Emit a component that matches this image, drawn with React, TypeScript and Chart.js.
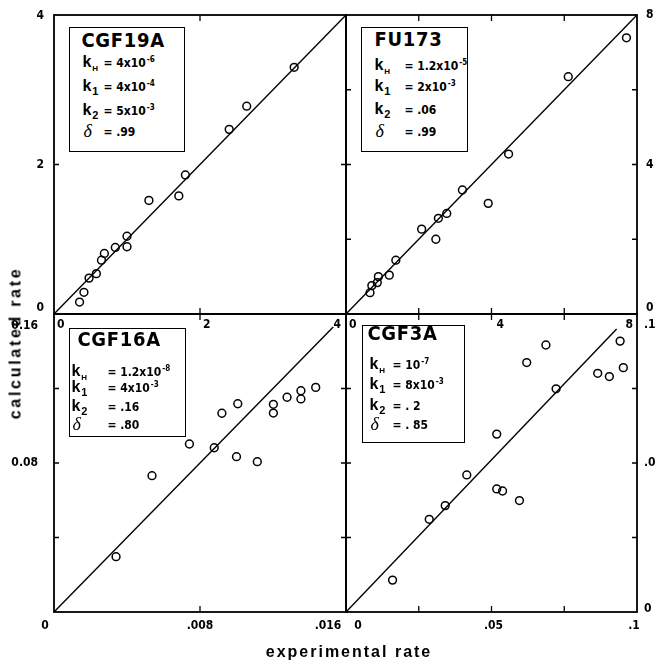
import React, { useEffect, useRef } from 'react';
import { Chart, registerables } from 'chart.js';

Chart.register(...registerables);

// ---------- CGF19A (upper left) ----------
const cgf19aExperimental = [0.35, 0.41, 0.48, 0.58, 0.65, 0.69, 0.84, 1.0, 1.0, 1.3, 1.71, 1.8, 2.4, 2.64, 3.29];
const cgf19aCalculated = [0.16, 0.29, 0.48, 0.54, 0.72, 0.81, 0.89, 0.9, 1.04, 1.52, 1.58, 1.86, 2.47, 2.78, 3.3];
const cgf19aFitX = [0, 4];
const cgf19aFitY = [0, 4];
const cgf19aRange = [0, 4];
const cgf19aXMarks = [2];
const cgf19aYMarks = [2];
const cgf19aXLabelValues = [0, 2, 4];
const cgf19aXLabels = ['0', '2', '4'];
const cgf19aYLabelValues = [0, 2, 4];
const cgf19aYLabels = ['0', '2', '4'];

// ---------- FU173 (upper right) ----------
const fu173Experimental = [0.66, 0.71, 0.86, 0.89, 1.19, 1.37, 2.08, 2.47, 2.54, 2.77, 3.2, 3.91, 4.47, 6.11, 7.71];
const fu173Calculated = [0.57, 0.76, 0.84, 1.0, 1.04, 1.44, 2.27, 2.0, 2.56, 2.69, 3.32, 2.96, 4.28, 6.35, 7.39];
const fu173FitX = [0, 8];
const fu173FitY = [0, 8];
const fu173Range = [0, 8];
const fu173XMarks = [2, 4, 6];
const fu173YMarks = [2, 4, 6];
const fu173XLabelValues = [0, 4, 8];
const fu173XLabels = ['0', '4', '8'];
const fu173YLabelValues = [0, 4, 8];
const fu173YLabels = ['0', '4', '8'];

// ---------- CGF16A (lower left) ----------
const cgf16aExperimental = [0.0034, 0.00537, 0.00742, 0.00878, 0.0092, 0.01, 0.01007, 0.01114, 0.01202, 0.01202, 0.01277, 0.01353, 0.01353, 0.01434];
const cgf16aCalculated = [0.0297, 0.0732, 0.0902, 0.0882, 0.1067, 0.0834, 0.1118, 0.0807, 0.1115, 0.1068, 0.1153, 0.1188, 0.1144, 0.1206];
const cgf16aFitX = [0, 0.0153];
const cgf16aFitY = [0, 0.153];
const cgf16aXRange = [0, 0.016];
const cgf16aYRange = [0, 0.16];
const cgf16aXMarks = [0.008];
const cgf16aYMarks = [0.04, 0.08, 0.12];
const cgf16aXLabelValues = [0, 0.008, 0.016];
const cgf16aXLabels = ['0', '.008', '.016'];
const cgf16aYLabelValues = [0.08, 0.16];
const cgf16aYLabels = ['0.08', '0.16'];

// ---------- CGF3A (lower right) ----------
const cgf3aExperimental = [0.016, 0.0286, 0.0341, 0.0415, 0.0518, 0.0518, 0.0538, 0.0596, 0.0621, 0.0687, 0.0722, 0.0865, 0.0905, 0.0942, 0.0953];
const cgf3aCalculated = [0.0107, 0.0311, 0.0357, 0.046, 0.0597, 0.0413, 0.0406, 0.0374, 0.0837, 0.0896, 0.0749, 0.0801, 0.079, 0.0909, 0.082];
const cgf3aFitX = [0, 0.093];
const cgf3aFitY = [0, 0.095];
const cgf3aRange = [0, 0.1];
const cgf3aXMarks = [0.025, 0.05, 0.075];
const cgf3aYMarks = [0.025, 0.05, 0.075];
const cgf3aXLabelValues = [0, 0.05, 0.1];
const cgf3aXLabels = ['0', '.05', '.1'];
const cgf3aYLabelValues = [0, 0.05, 0.1];
const cgf3aYLabels = ['0', '.05', '.1'];

// ---------- fitted parameters shown in each panel ----------
const sampleNames = ['CGF19A', 'FU173', 'CGF16A', 'CGF3A'];
const kHValues = ['4x10', '1.2x10', '1.2x10', '10'];
const kHExponents = ['-6', '-5', '-8', '-7'];
const k1Values = ['4x10', '2x10', '4x10', '8x10'];
const k1Exponents = ['-4', '-3', '-3', '-3'];
const k2Values = ['5x10', '.06', '.16', '. 2'];
const k2Exponents = ['-3', '', '', ''];
const deltaValues = ['.99', '.99', '.80', '. 85'];

const W = 656;
const H = 660;
const TICK_FONT = "bold 12px 'Liberation Sans Narrow', 'DejaVu Sans Condensed', 'Liberation Sans', sans-serif";
const NARROW = "'Liberation Sans Narrow', 'DejaVu Sans Condensed', 'Liberation Sans', sans-serif";

type Place = {
  area: { left: number; top: number; right: number; bottom: number };
  ySide: 'left' | 'right';
  yGap: number;
  yDy: number[];
  xGap: number;
  xAlign: CanvasTextAlign[];
  xDx: number[];
};

type PanelSpec = {
  exp: number[];
  calc: number[];
  fitX: number[];
  fitY: number[];
  xRange: number[];
  yRange: number[];
  xMarks: number[];
  yMarks: number[];
  xLabelValues: number[];
  xLabels: string[];
  yLabelValues: number[];
  yLabels: string[];
  place: Place;
};

const panels: PanelSpec[] = [
  {
    exp: cgf19aExperimental, calc: cgf19aCalculated, fitX: cgf19aFitX, fitY: cgf19aFitY,
    xRange: cgf19aRange, yRange: cgf19aRange, xMarks: cgf19aXMarks, yMarks: cgf19aYMarks,
    xLabelValues: cgf19aXLabelValues, xLabels: cgf19aXLabels, yLabelValues: cgf19aYLabelValues, yLabels: cgf19aYLabels,
    place: {
      area: { left: 54, top: 15, right: 346, bottom: 314 },
      ySide: 'left', yGap: 10, yDy: [-6, 0, 1],
      xGap: 11, xAlign: ['left', 'left', 'right'], xDx: [3, 3, -5],
    },
  },
  {
    exp: fu173Experimental, calc: fu173Calculated, fitX: fu173FitX, fitY: fu173FitY,
    xRange: fu173Range, yRange: fu173Range, xMarks: fu173XMarks, yMarks: fu173YMarks,
    xLabelValues: fu173XLabelValues, xLabels: fu173XLabels, yLabelValues: fu173YLabelValues, yLabels: fu173YLabels,
    place: {
      area: { left: 346, top: 15, right: 637, bottom: 314 },
      ySide: 'right', yGap: 9, yDy: [-6, 0, 0],
      xGap: 11, xAlign: ['left', 'left', 'right'], xDx: [3, 5, -4],
    },
  },
  {
    exp: cgf16aExperimental, calc: cgf16aCalculated, fitX: cgf16aFitX, fitY: cgf16aFitY,
    xRange: cgf16aXRange, yRange: cgf16aYRange, xMarks: cgf16aXMarks, yMarks: cgf16aYMarks,
    xLabelValues: cgf16aXLabelValues, xLabels: cgf16aXLabels, yLabelValues: cgf16aYLabelValues, yLabels: cgf16aYLabels,
    place: {
      area: { left: 54, top: 314, right: 346, bottom: 612 },
      ySide: 'left', yGap: 16, yDy: [0, 12],
      xGap: 14, xAlign: ['center', 'center', 'center'], xDx: [-9, 0, -18],
    },
  },
  {
    exp: cgf3aExperimental, calc: cgf3aCalculated, fitX: cgf3aFitX, fitY: cgf3aFitY,
    xRange: cgf3aRange, yRange: cgf3aRange, xMarks: cgf3aXMarks, yMarks: cgf3aYMarks,
    xLabelValues: cgf3aXLabelValues, xLabels: cgf3aXLabels, yLabelValues: cgf3aYLabelValues, yLabels: cgf3aYLabels,
    place: {
      area: { left: 346, top: 314, right: 637, bottom: 612 },
      ySide: 'right', yGap: 7, yDy: [-3, 0, 11],
      xGap: 14, xAlign: ['center', 'center', 'center'], xDx: [12, 2, -3],
    },
  },
];

// Frame, inward tick marks and tick labels, all positioned through the chart's scales.
function paperAxes(spec: PanelSpec) {
  return {
    id: 'paperAxes',
    afterDraw(chart: any) {
      const { ctx, chartArea: a, scales } = chart;
      const xs = scales.x;
      const ys = scales.y;
      const p = spec.place;
      ctx.save();
      ctx.strokeStyle = '#000';
      ctx.lineWidth = 1.8;
      ctx.strokeRect(a.left, a.top, a.right - a.left, a.bottom - a.top);

      ctx.lineWidth = 1.3;
      ctx.beginPath();
      spec.xMarks.forEach((v) => {
        const px = xs.getPixelForValue(v);
        ctx.moveTo(px, a.top);
        ctx.lineTo(px, a.top + 6);
        ctx.moveTo(px, a.bottom);
        ctx.lineTo(px, a.bottom - 6);
      });
      spec.yMarks.forEach((v) => {
        const py = ys.getPixelForValue(v);
        ctx.moveTo(a.left, py);
        ctx.lineTo(a.left + 5, py);
        ctx.moveTo(a.right, py);
        ctx.lineTo(a.right - 5, py);
      });
      ctx.stroke();

      ctx.fillStyle = '#000';
      ctx.font = TICK_FONT;
      ctx.textBaseline = 'middle';
      spec.xLabelValues.forEach((v, i) => {
        ctx.textAlign = p.xAlign[i];
        ctx.fillText(spec.xLabels[i], xs.getPixelForValue(v) + p.xDx[i], a.bottom + p.xGap);
      });
      const onLeft = p.ySide === 'left';
      ctx.textAlign = onLeft ? 'right' : 'left';
      spec.yLabelValues.forEach((v, i) => {
        const x = onLeft ? a.left - p.yGap : a.right + p.yGap;
        ctx.fillText(spec.yLabels[i], x, ys.getPixelForValue(v) + p.yDy[i]);
      });
      ctx.restore();
    },
  };
}

function buildConfig(spec: PanelSpec): any {
  const a = spec.place.area;
  const points = spec.exp.map((x, i) => ({ x, y: spec.calc[i] }));
  const fit = spec.fitX.map((x, i) => ({ x, y: spec.fitY[i] }));
  return {
    type: 'scatter',
    data: {
      datasets: [
        {
          data: fit,
          showLine: true,
          borderColor: '#000',
          borderWidth: 1.4,
          pointRadius: 0,
          fill: false,
        },
        {
          data: points,
          pointStyle: 'circle',
          pointRadius: 3.9,
          pointBorderWidth: 1.5,
          borderColor: '#000',
          backgroundColor: 'rgba(0,0,0,0)',
        },
      ],
    },
    options: {
      animation: false,
      responsive: false,
      events: [],
      layout: { padding: { left: a.left, top: a.top, right: W - a.right, bottom: H - a.bottom } },
      plugins: { legend: { display: false }, tooltip: { enabled: false } },
      scales: {
        x: { type: 'linear', min: spec.xRange[0], max: spec.xRange[1], display: false },
        y: { type: 'linear', min: spec.yRange[0], max: spec.yRange[1], display: false },
      },
    },
    plugins: [paperAxes(spec)],
  };
}

function PanelChart({ spec }: { spec: PanelSpec }) {
  const ref = useRef<HTMLCanvasElement>(null);
  useEffect(() => {
    if (!ref.current) return;
    const chart = new Chart(ref.current, buildConfig(spec));
    return () => chart.destroy();
  }, [spec]);
  return (
    <canvas
      ref={ref}
      width={W}
      height={H}
      style={{ position: 'absolute', left: 0, top: 0, width: W, height: H }}
    />
  );
}

// Layout of the parameter boxes (page coordinates of the box, offsets inside it).
const boxLayout = [
  { left: 69, top: 27, width: 116, height: 125, titleX: 13, titleY: 14, kX: 14, eqX: 35, rows: [36, 60, 84, 105] },
  { left: 361, top: 27, width: 107, height: 125, titleX: 14, titleY: 13, kX: 14, eqX: 44, rows: [39, 60, 83, 105] },
  { left: 69, top: 328, width: 117, height: 109, titleX: 9, titleY: 12, kX: 3, eqX: 39, rows: [44, 60, 79, 97] },
  { left: 362, top: 325, width: 103, height: 118, titleX: 6, titleY: 9, kX: 8, eqX: 31, rows: [40, 60, 81, 100] },
];

const BORDER = 1.6;

// top offset for a line box so that its baseline lands on `baseline`
const topFor = (baseline: number, size: number) => baseline - 0.85 * size;

function ParamRow({ y, kX, eqX, sub, value, exp, delta }: any) {
  const base = y + 5;
  return (
    <>
      <div
        style={{
          position: 'absolute', left: kX, top: topFor(base, 16), lineHeight: '16px', fontSize: 16,
          fontWeight: 'bold', fontFamily: delta ? "'Liberation Serif', 'DejaVu Serif', serif" : "'Liberation Sans', sans-serif",
          fontStyle: delta ? 'italic' : 'normal', whiteSpace: 'nowrap',
        }}
      >
        {delta ? <span style={{ fontSize: 18, fontWeight: 'normal', marginLeft: 1 }}>δ</span> : 'k'}
        {sub ? (
          <span style={{ fontSize: sub === 'H' ? 8 : 11, position: 'relative', top: 4, marginLeft: 1 }}>{sub}</span>
        ) : null}
      </div>
      <div
        style={{
          position: 'absolute', left: eqX, top: topFor(base, 12), lineHeight: '12px', fontSize: 12,
          fontWeight: 'bold', fontFamily: NARROW, whiteSpace: 'nowrap',
        }}
      >
        {'= ' + value}
        {exp ? <span style={{ fontSize: 8, position: 'relative', top: -5, marginLeft: 1 }}>{exp}</span> : null}
      </div>
    </>
  );
}

function ParamBox({ i }: { i: number }) {
  const b = boxLayout[i];
  return (
    <div
      style={{
        position: 'absolute', left: b.left, top: b.top, width: b.width, height: b.height,
        border: BORDER + 'px solid #000', boxSizing: 'border-box', background: '#fff', color: '#000',
      }}
    >
      <div
        style={{
          position: 'absolute', left: b.titleX - BORDER, top: topFor(b.titleY + 7, 20) - BORDER, fontSize: 20, lineHeight: '20px',
          fontWeight: 'bold', fontFamily: NARROW, letterSpacing: '0.7px', whiteSpace: 'nowrap',
        }}
      >
        {sampleNames[i]}
      </div>
      <ParamRow y={b.rows[0] - BORDER} kX={b.kX - BORDER} eqX={b.eqX - BORDER} sub="H" value={kHValues[i]} exp={kHExponents[i]} />
      <ParamRow y={b.rows[1] - BORDER} kX={b.kX - BORDER} eqX={b.eqX - BORDER} sub="1" value={k1Values[i]} exp={k1Exponents[i]} />
      <ParamRow y={b.rows[2] - BORDER} kX={b.kX - BORDER} eqX={b.eqX - BORDER} sub="2" value={k2Values[i]} exp={k2Exponents[i]} />
      <ParamRow y={b.rows[3] - BORDER} kX={b.kX - BORDER} eqX={b.eqX - BORDER} delta value={deltaValues[i]} />
    </div>
  );
}

export default function App() {
  const titleStyle: React.CSSProperties = {
    position: 'absolute', fontFamily: "'Liberation Sans', Arial, sans-serif", fontWeight: 'bold',
    fontSize: 16, letterSpacing: '2px', whiteSpace: 'nowrap', color: '#000', lineHeight: '17px',
  };
  return (
    <div style={{ position: 'absolute', left: 0, top: 0, width: W, height: H, background: '#fff', overflow: 'hidden' }}>
      {panels.map((spec, i) => (
        <PanelChart key={i} spec={spec} />
      ))}
      {panels.map((_, i) => (
        <ParamBox key={'box' + i} i={i} />
      ))}
      <div style={{ ...titleStyle, left: 349, top: 651, transform: 'translate(-50%, -50%)' }}>experimental rate</div>
      <div style={{ ...titleStyle, left: 15, top: 343, letterSpacing: '2.7px', transform: 'translate(-50%, -50%) rotate(-90deg)' }}>
        calculated rate
      </div>
    </div>
  );
}
